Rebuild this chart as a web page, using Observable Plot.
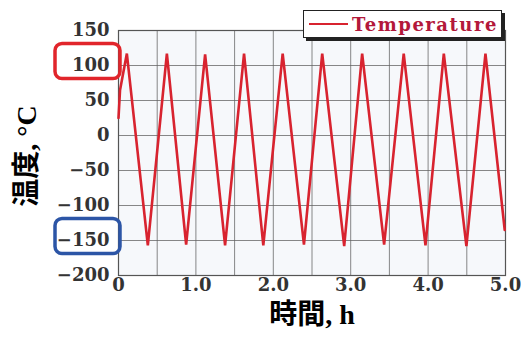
<!DOCTYPE html>
<html>
<head>
<meta charset="utf-8">
<script src="https://cdn.jsdelivr.net/npm/d3@7"></script>
<script src="https://cdn.jsdelivr.net/npm/@observablehq/plot@0.6"></script>
<style>
  html, body { margin: 0; padding: 0; background: white; }
  #wrap { position: relative; width: 521px; height: 338px; }
  #wrap svg text { font-weight: bold; }
  #legend {
    position: absolute; left: 303px; top: 10px; width: 199px; height: 28px;
    background: white; border: 1.5px solid #222; box-shadow: 3px 3px 0 #222;
    display: flex; align-items: center; box-sizing: border-box;
  }
  #legend .sw { width: 39px; height: 2.5px; background: #d8232f; margin-left: 5px; margin-right: 4px; }
  #legend .lbl { font-family: "DejaVu Serif", serif; font-weight: bold; font-size: 18px;
    letter-spacing: 1.5px; color: #b3183a; white-space: nowrap; }
</style>
</head>
<body>
<div id="wrap"></div>
<script>
// Data
const times = [0, 0.02, 0.108, 0.379, 0.625, 0.874, 1.119, 1.377, 1.622, 1.871, 2.121, 2.396, 2.632, 2.916, 3.148, 3.432, 3.685, 3.966, 4.203, 4.495, 4.741, 4.99];
const temps = [25, 65, 117, -157, 117, -156, 116, -157, 117, -157, 117, -156, 117, -158, 117, -156, 117, -157, 117, -158, 117, -135];
const seriesName = "Temperature";
const xTicks = [0, 1, 2, 3, 4, 5];
const xTickLabels = ["0", "1.0", "2.0", "3.0", "4.0", "5.0"];
const xGrid = [0, 0.5, 1, 1.5, 2, 2.5, 3, 3.5, 4, 4.5, 5];
const yTicks = [-200, -150, -100, -50, 0, 50, 100, 150];
const highlightValues = [100, -150];
const highlightColors = ["#e1252b", "#2c55a6"];
const xLabel = "時間, h";
const yLabel = "温度, °C";

const data = times.map((t, i) => ({t, v: temps[i]}));
const highlights = highlightValues.map((v, i) => ({v, color: highlightColors[i]}));
const titleFont = "'Liberation Serif', 'Noto Sans CJK JP', serif";
const tickFont = "'DejaVu Serif', serif";

const chart = Plot.plot({
  width: 521, height: 338,
  marginLeft: 118, marginRight: 16, marginTop: 30, marginBottom: 63,
  x: {domain: [0, 5]},
  y: {domain: [-200, 150]},
  style: {background: "white", fontFamily: tickFont, overflow: "visible"},
  marks: [
    Plot.frame({fill: "#f6f8fb", stroke: "none"}),
    Plot.gridX(xGrid, {stroke: "#606060", strokeOpacity: 0.75}),
    Plot.gridY(yTicks, {stroke: "#606060", strokeOpacity: 0.75}),
    Plot.frame({stroke: "#555", strokeWidth: 1.2}),
    Plot.axisX(xTicks, {tickSize: 0, tickPadding: 3, tickFormat: d => xTickLabels[xTicks.indexOf(d)],
      fontSize: 18, fontWeight: "bold", fill: "#333", label: null, fontFamily: tickFont}),
    Plot.axisY(yTicks, {tickSize: 0, tickPadding: 9, fontSize: 18, fontWeight: "bold", fill: "#333", label: null,
      fontFamily: tickFont}),
    Plot.line(data, {x: "t", y: "v", stroke: "#d8232f", strokeWidth: 2.6, strokeLinejoin: "miter"}),
    Plot.rect(highlights, {x1: () => 0, x2: () => 5, y1: d => d.v - 25, y2: d => d.v + 25,
      insetLeft: -63, insetRight: 385, rx: 7, dy: -4, fill: "none", stroke: d => d.color, strokeWidth: 3.5}),
    Plot.text([yLabel], {frameAnchor: "left", dx: -91, dy: 3, rotate: -90, text: d => d, textAnchor: "middle",
      lineAnchor: "middle", fontSize: 28, fontWeight: "bold", fill: "black", fontFamily: titleFont}),
    Plot.text([xLabel], {frameAnchor: "bottom", dy: 40, text: d => d, textAnchor: "middle", lineAnchor: "middle",
      fontSize: 28, fontWeight: "bold", fill: "black", fontFamily: titleFont})
  ]
});

const wrap = document.getElementById("wrap");
wrap.appendChild(chart);
const legend = document.createElement("div");
legend.id = "legend";
legend.innerHTML = `<span class="sw"></span><span class="lbl"></span>`;
legend.querySelector(".lbl").textContent = seriesName;
wrap.appendChild(legend);
</script>
</body>
</html>
